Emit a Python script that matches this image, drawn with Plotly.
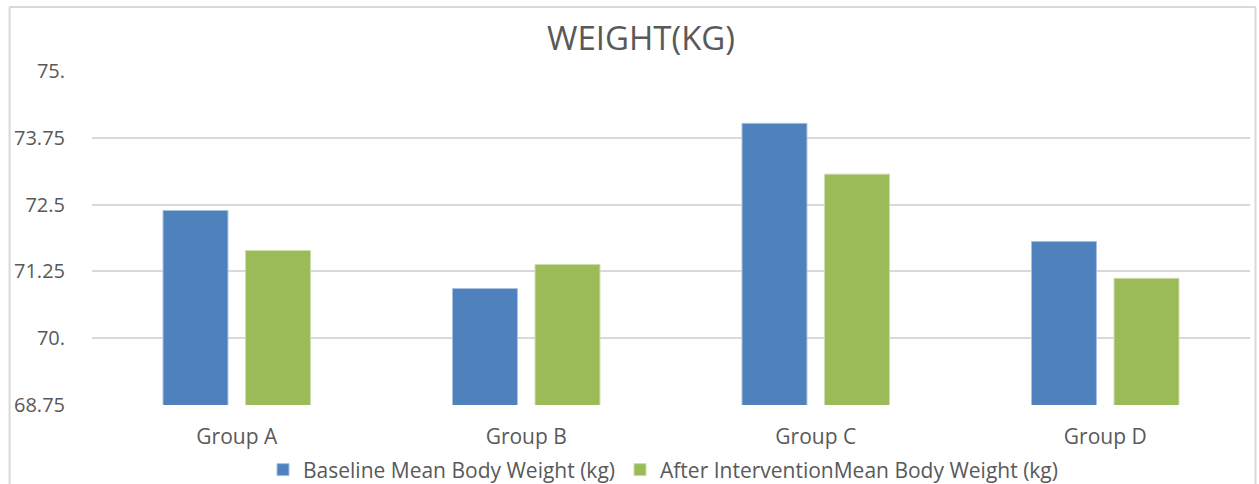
import plotly.graph_objects as go

categories = ["Group A", "Group B", "Group C", "Group D"]
baseline = [72.39, 70.93, 74.02, 71.81]
after = [71.64, 71.38, 73.07, 71.12]
tick_vals = [68.75, 70.0, 71.25, 72.5, 73.75, 75.0]
tick_text = ["68.75", "70.", "71.25", "72.5", "73.75", "75."]

FONT = "Open Sans"
TXT = "#595959"
GRID = "#D9D9D9"

fig = go.Figure()
fig.add_trace(go.Bar(x=categories, y=baseline, name="Baseline Mean Body Weight (kg)",
                     marker=dict(color="#4F81BD", line=dict(color="#A9C0DE", width=1))))
fig.add_trace(go.Bar(x=categories, y=after, name="After InterventionMean Body Weight (kg)",
                     marker=dict(color="#9BBB59", line=dict(color="#CCDDAA", width=1))))

W, H = 1259, 484
ml, mr, mt, mb = 91.5, 8.5, 71, 79
pw, ph = W - ml - mr, H - mt - mb

def px(x):
    return (x - ml) / pw

def py(y):
    return (H - mb - y) / ph

border = dict(type="line", xref="paper", yref="paper", line=dict(color=GRID, width=2))
shapes = [
    dict(border, x0=px(9), x1=px(9), y0=py(7), y1=py(500)),
    dict(border, x0=px(9), x1=px(1256), y0=py(7), y1=py(7)),
    dict(border, x0=px(1256), x1=px(1256), y0=py(7), y1=py(500)),
]

fig.update_layout(
    width=W, height=H,
    margin=dict(l=ml, r=mr, t=mt, b=mb, autoexpand=False),
    paper_bgcolor="white", plot_bgcolor="white",
    barmode="group", bargap=0.43, bargroupgap=0.213,
    font=dict(family=FONT, color=TXT, size=21),
    title=dict(text="WEIGHT(KG)", x=641 / W, xanchor="center", y=1 - 38 / H, yanchor="middle",
               font=dict(family=FONT, size=33, color=TXT)),
    xaxis=dict(showgrid=False, showline=False, ticks="", ticklabelstandoff=17,
               tickfont=dict(size=21, color=TXT)),
    yaxis=dict(range=[68.75, 75.0], tickvals=tick_vals, ticktext=tick_text,
               showgrid=True, gridcolor=GRID, gridwidth=2, zeroline=False, showline=False,
               ticks="", ticklabelstandoff=26, tickfont=dict(size=20, color=TXT)),
    legend=dict(orientation="h", x=px(663), xanchor="center", y=py(470), yanchor="middle",
                font=dict(size=21, color=TXT), itemwidth=30, traceorder="normal"),
    shapes=shapes,
)
fig.write_html("out.html", config={"displayModeBar": False},
               post_script="document.body.style.margin='0';document.body.style.overflow='hidden';")
